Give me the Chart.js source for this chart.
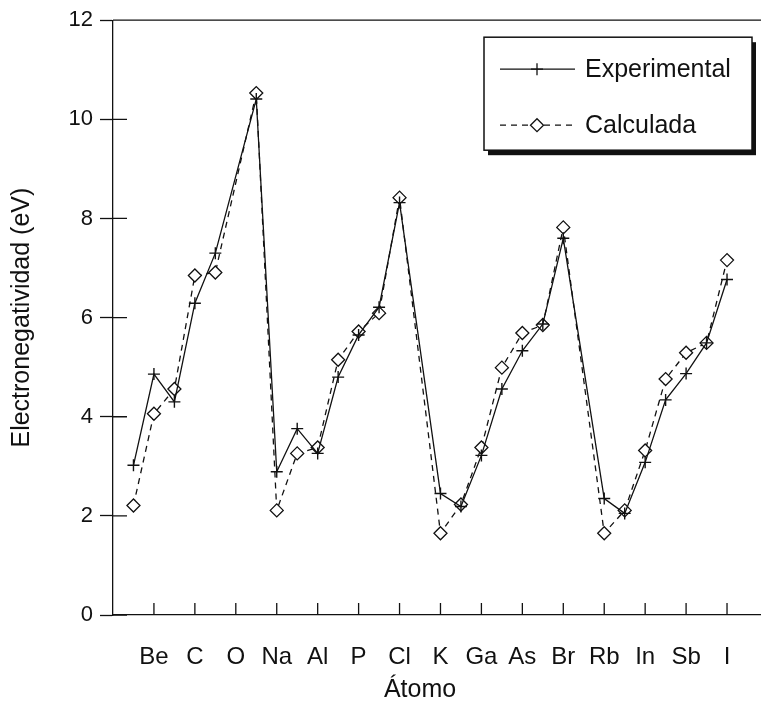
<!DOCTYPE html>
<html lang="es">
<head>
<meta charset="UTF-8">
<title>Electronegatividad</title>
<script src="https://cdn.jsdelivr.net/npm/chart.js@4.4.1/dist/chart.umd.min.js"></script>
<style>
    html, body { margin: 0; padding: 0; background: #fff; overflow: hidden; }
    canvas { display: block; }
</style>
</head>
<body>
<canvas id="chart" width="761" height="705"></canvas>
<script>
// Atoms in order along the x axis (O, Ar and Kr have no data)
const atoms = ['Li', 'Be', 'B', 'C', 'N', 'O', 'F', 'Na', 'Mg', 'Al', 'Si', 'P', 'S', 'Cl', 'Ar',
    'K', 'Ca', 'Ga', 'Ge', 'As', 'Se', 'Br', 'Kr', 'Rb', 'Sr', 'In', 'Sn', 'Sb', 'Te', 'I'];
const experimental = [3.02, 4.86, 4.30, 6.29, 7.30, null, 10.41, 2.89, 3.76, 3.26, 4.80, 5.65, 6.21, 8.32, null,
    2.45, 2.19, 3.22, 4.56, 5.33, 5.87, 7.60, null, 2.35, 2.05, 3.08, 4.34, 4.87, 5.49, 6.77];
const calculated = [2.21, 4.06, 4.56, 6.85, 6.91, null, 10.53, 2.11, 3.26, 3.38, 5.15, 5.72, 6.09, 8.42, null,
    1.65, 2.23, 3.38, 4.99, 5.69, 5.85, 7.82, null, 1.65, 2.11, 3.32, 4.76, 5.29, 5.49, 7.16];
// Labels on the x ticks (one every two atoms)
const tickLabels = ['', 'Be', 'C', 'O', 'Na', 'Al', 'P', 'Cl', 'K', 'Ga', 'As', 'Br', 'Rb', 'In', 'Sb', 'I'];
const yTicks = [0, 2, 4, 6, 8, 10, 12];

document.addEventListener('DOMContentLoaded', function() {
    const FONT = '"Liberation Sans", Arial, sans-serif';
    const INK = '#111';

    // each atom sits half a tick apart
    const toPoints = values => values.map((v, i) => ({ x: (i + 1) / 2, y: v }));

    // Inward tick marks, top frame line and the x title (centred under the labelled ticks)
    const frame = {
        id: 'frame',
        afterDatasetsDraw(chart) {
            const { ctx, chartArea } = chart;
            const x = chart.scales.x, y = chart.scales.y;
            ctx.save();
            ctx.strokeStyle = INK;
            ctx.lineWidth = 1.3;
            ctx.beginPath();
            ctx.moveTo(chartArea.left, chartArea.top);
            ctx.lineTo(chartArea.right, chartArea.top);
            x.ticks.forEach(t => {
                if (t.value < 1) return;
                const px = x.getPixelForValue(t.value);
                ctx.moveTo(px, chartArea.bottom);
                ctx.lineTo(px, chartArea.bottom - 12);
            });
            y.ticks.forEach(t => {
                const py = y.getPixelForValue(t.value);
                ctx.moveTo(chartArea.left, py);
                ctx.lineTo(chartArea.left + 14, py);
            });
            ctx.stroke();

            ctx.fillStyle = INK;
            ctx.font = '25px ' + FONT;
            ctx.textAlign = 'center';
            ctx.textBaseline = 'middle';
            const mid = (x.getPixelForValue(0) + x.getPixelForValue(tickLabels.length - 1)) / 2;
            ctx.fillText('Átomo', mid, x.bottom - 15);
            ctx.restore();
        }
    };

    // Boxed legend with shadow, top right of the plot
    const legendBox = {
        id: 'legendBox',
        afterDraw(chart) {
            const { ctx, chartArea } = chart;
            const w = 268, h = 113;
            const left = chartArea.right - 9 - w, top = chartArea.top + 17;
            ctx.save();
            ctx.fillStyle = INK;
            ctx.fillRect(left + 4, top + 5, w, h);
            ctx.fillStyle = '#fff';
            ctx.fillRect(left, top, w, h);
            ctx.strokeStyle = INK;
            ctx.lineWidth = 1.5;
            ctx.strokeRect(left, top, w, h);

            chart.data.datasets.forEach((ds, i) => {
                const ly = top + 32 + i * 56;
                ctx.strokeStyle = INK;
                ctx.lineWidth = 1.3;
                ctx.setLineDash(ds.borderDash || []);
                ctx.beginPath();
                ctx.moveTo(left + 16, ly);
                ctx.lineTo(left + 91, ly);
                ctx.stroke();
                ctx.setLineDash([]);
                ctx.fillStyle = '#fff';
                Chart.helpers.drawPoint(ctx, {
                    pointStyle: ds.pointStyle,
                    radius: ds.pointRadius,
                    borderWidth: ds.pointBorderWidth,
                    rotation: 0
                }, left + 53, ly);
                ctx.fillStyle = INK;
                ctx.font = '25px ' + FONT;
                ctx.textBaseline = 'middle';
                ctx.fillText(ds.label, left + 101, ly + 1);
            });
            ctx.restore();
        }
    };

    const ctx = document.getElementById('chart').getContext('2d');
    new Chart(ctx, {
        type: 'line',
        data: {
            datasets: [{
                label: 'Experimental',
                data: toPoints(experimental),
                borderColor: INK,
                borderWidth: 1.3,
                pointStyle: 'cross',
                pointRadius: 6,
                pointBorderWidth: 1.4,
                pointBorderColor: INK,
                pointBackgroundColor: INK,
                tension: 0,
                spanGaps: true
            }, {
                label: 'Calculada',
                data: toPoints(calculated),
                borderColor: INK,
                borderWidth: 1.3,
                borderDash: [6, 5],
                pointStyle: 'rectRot',
                pointRadius: 6.5,
                pointBorderWidth: 1.3,
                pointBorderColor: INK,
                pointBackgroundColor: '#fff',
                tension: 0,
                spanGaps: true
            }]
        },
        options: {
            responsive: false,
            animation: false,
            layout: { autoPadding: false, padding: { top: 18, right: 0, left: 0, bottom: 0 } },
            plugins: {
                legend: { display: false },
                tooltip: { enabled: false }
            },
            scales: {
                x: {
                    type: 'linear',
                    min: 0,
                    max: 15.83,
                    afterFit: scale => {
                        scale.height = 90;
                        scale.paddingLeft = 0;
                        scale.paddingRight = 0;
                    },
                    border: { display: true, color: INK, width: 1.3 },
                    grid: { display: true, drawOnChartArea: false, drawTicks: false },
                    ticks: {
                        stepSize: 1,
                        includeBounds: false,
                        autoSkip: false,
                        maxRotation: 0,
                        padding: 28,
                        color: INK,
                        font: { family: FONT, size: 24 },
                        callback: value => tickLabels[value] || ''
                    },
                    title: { display: false }
                },
                y: {
                    min: 0,
                    max: 12,
                    afterFit: scale => { scale.width = 113; },
                    afterBuildTicks: scale => {
                        scale.ticks = yTicks.map(v => ({ value: v }));
                    },
                    border: { display: true, color: INK, width: 1.3 },
                    grid: {
                        drawOnChartArea: false,
                        drawTicks: true,
                        tickLength: 13,
                        tickColor: INK,
                        tickWidth: 1.3
                    },
                    ticks: {
                        padding: 7,
                        color: INK,
                        font: { family: FONT, size: 22 }
                    },
                    title: {
                        display: true,
                        text: 'Electronegatividad (eV)',
                        color: INK,
                        font: { family: FONT, size: 25, lineHeight: 1.2 },
                        padding: { top: 7, bottom: 0 }
                    }
                }
            }
        },
        plugins: [frame, legendBox]
    });
});
</script>
</body>
</html>
